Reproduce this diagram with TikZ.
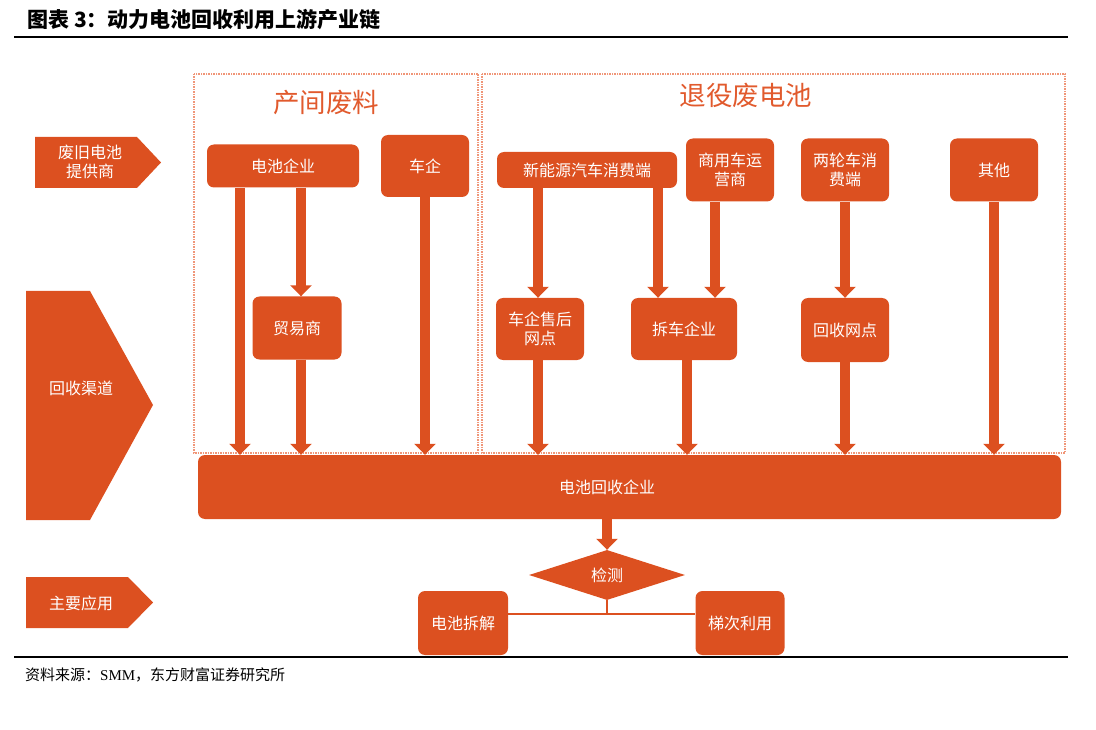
\documentclass[tikz,border=0pt]{standalone}
\usepackage{fontspec}
\setmainfont{Noto Sans CJK SC}
\newfontfamily\latinserif{Liberation Serif}
\usetikzlibrary{arrows.meta,shapes.geometric}
\definecolor{org}{RGB}{220,80,32}
\definecolor{dotc}{RGB}{240,150,120}
\definecolor{headc}{RGB}{225,90,45}
\begin{document}
\begin{tikzpicture}[x=1pt,y=-1pt,
  box/.style={fill=org, rounded corners=7pt, text=white, font=\fontsize{16}{19}\selectfont, align=center, inner sep=0pt},
  lbl/.style={text=white, font=\fontsize{16}{19}\selectfont, align=center, inner sep=0pt},
  flow/.style={draw=org, line width=10pt, -{Triangle[width=21pt,length=11pt]}},
  thinline/.style={draw=org, line width=1.3pt},
  dotbox/.style={draw=dotc, line width=2pt, dash pattern=on 1.5pt off 1pt},
  head/.style={text=headc, font=\fontsize{26.5}{30}\selectfont, inner sep=0pt}]
\useasboundingbox (0,0) rectangle (1096,730);
% title and rules
\node[anchor=west, inner sep=0pt, font=\fontsize{21}{24}\selectfont\bfseries] (title) at (27,20) {图表 3：动力电池回收利用上游产业链};
\draw[line width=2pt] (14,37) -- (1068,37);
\draw[line width=1.6pt] (14,657) -- (1068,657);
\node[anchor=west, inner sep=0pt, font=\fontsize{15}{18}\selectfont] (src) at (25,675) {资料来源：{\latinserif SMM}，东方财富证券研究所};
% dotted regions
\draw[dotbox] (194,74) rectangle (478,453);
\draw[dotbox] (482,74) rectangle (1065,453);
\node[head] (h1) at (326,102) {产间废料};
\node[head] (h2) at (746,95) {退役废电池};
% left pentagons
\fill[org] (35,137) -- (137,137) -- (161,162.5) -- (137,188) -- (35,188) -- cycle;
\node[lbl] (l1) at (90,162) {废旧电池\\提供商};
\fill[org] (26,291) -- (90,291) -- (153,405) -- (90,520) -- (26,520) -- cycle;
\node[lbl] (l2) at (81,388) {回收渠道};
\fill[org] (26,577) -- (128,577) -- (153,602.5) -- (128,628) -- (26,628) -- cycle;
\node[lbl] (l3) at (81,603) {主要应用};
% boxes
\node[box, minimum width=152, minimum height=43] (dcqy) at (283,166) {电池企业};
\node[box, minimum width=88, minimum height=62] (cq) at (425,166) {车企};
\node[box, minimum width=89, minimum height=63] (mys) at (297,328) {贸易商};
\node[box, minimum width=180, minimum height=36] (xny) at (587,170) {新能源汽车消费端};
\node[box, minimum width=88, minimum height=63] (syc) at (730,170) {商用车运\\营商};
\node[box, minimum width=88, minimum height=63] (llc) at (845,170) {两轮车消\\费端};
\node[box, minimum width=88, minimum height=63] (qt) at (994,170) {其他};
\node[box, minimum width=88, minimum height=62] (cqsh) at (540,329) {车企售后\\网点};
\node[box, minimum width=106, minimum height=62] (cc) at (684,329) {拆车企业};
\node[box, minimum width=88, minimum height=64] (hswd) at (845,330) {回收网点};
\node[box, minimum width=863, minimum height=64] (hsqy) at (629.5,487) {};
\node[lbl] (hsqyt) at (607,487) {电池回收企业};
\node[diamond, fill=org, aspect=3, minimum width=156, minimum height=50, inner sep=0pt, text=white, font=\fontsize{16}{19}\selectfont] (jc) at (607,575) {检测};
\node[box, minimum width=90, minimum height=64] (cj) at (463,623) {电池拆解};
\node[box, minimum width=89, minimum height=64] (tc) at (740,623) {梯次利用};
% x positions of arrows
\coordinate (a1) at (240,0);
\coordinate (a2) at (301,0);
\coordinate (a3) at (425,0);
\coordinate (a4) at (538,0);
\coordinate (a5) at (658,0);
\coordinate (a6) at (715,0);
\coordinate (a7) at (845,0);
\coordinate (a8) at (687,0);
\coordinate (a9) at (994,0);
\coordinate (ly) at (0,614);
% flows
\draw[flow] (dcqy.south -| a1) -- (hsqy.north -| a1);
\draw[flow] (dcqy.south -| a2) -- (mys.north -| a2);
\draw[flow] (mys.south -| a2) -- (hsqy.north -| a2);
\draw[flow] (cq.south -| a3) -- (hsqy.north -| a3);
\draw[flow] (xny.south -| a4) -- (cqsh.north -| a4);
\draw[flow] (xny.south -| a5) -- (cc.north -| a5);
\draw[flow] (syc.south -| a6) -- (cc.north -| a6);
\draw[flow] (llc.south -| a7) -- (hswd.north -| a7);
\draw[flow] (cqsh.south -| a4) -- (hsqy.north -| a4);
\draw[flow] (cc.south -| a8) -- (hsqy.north -| a8);
\draw[flow] (hswd.south -| a7) -- (hsqy.north -| a7);
\draw[flow] (qt.south -| a9) -- (hsqy.north -| a9);
\draw[flow] (hsqy.south -| jc.north) -- (jc.north);
\draw[thinline] (jc.south) |- (cj.east |- ly);
\draw[thinline] (jc.south) |- (tc.west |- ly);
\end{tikzpicture}
\end{document}
